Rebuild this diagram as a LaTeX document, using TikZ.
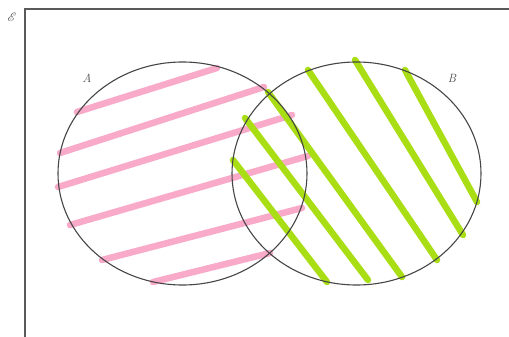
\documentclass[tikz,border=0pt]{standalone}
\usepackage{amsmath,amssymb,bm}
\usepackage{mathrsfs}
\usetikzlibrary{shapes.geometric}
\definecolor{pinkline}{RGB}{249,170,200}
\definecolor{greenline}{RGB}{170,222,20}
\definecolor{edgegray}{RGB}{70,70,70}
\definecolor{framegray}{RGB}{90,90,90}
\tikzset{
  setshape/.style={ellipse, draw=edgegray, line width=1.1pt, minimum width=249pt, minimum height=223pt, inner sep=0pt},
  pinkhatch/.style={pinkline, line width=6.5pt, line cap=round},
  greenhatch/.style={greenline, line width=6.5pt, line cap=round},
  setlabel/.style={font=\fontsize{12}{14}\selectfont\itshape, text=edgegray},
}
\begin{document}
\begin{tikzpicture}[x=1pt,y=-1pt]
\useasboundingbox (0,0) rectangle (509,337);
\clip (0,0) rectangle (509,337);
\fill[white] (0,0) rectangle (509,337);
% universal set frame
\draw[framegray, line width=2pt] (25,345) -- (25,9) -- (520,9);
\node[font=\fontsize{13}{15}\selectfont, text=edgegray] (U) at (12,17) {$\bm{\mathscr{E}}$};
% pink hatching (A)
\coordinate (p1s) at (77,112);  \coordinate (p1e) at (217,68);
\coordinate (p2s) at (60,153);  \coordinate (p2e) at (264,87);
\coordinate (p3s) at (58,187);  \coordinate (p3e) at (292,115);
\coordinate (p4s) at (70,225);  \coordinate (p4e) at (308,156);
\coordinate (p5s) at (102,260); \coordinate (p5e) at (302,208);
\coordinate (p6s) at (153,282); \coordinate (p6e) at (270,253);
\foreach \i in {1,...,6} { \draw[pinkhatch] (p\i s) -- (p\i e); }
% green hatching (B)
\coordinate (g1s) at (233,160); \coordinate (g1e) at (327,282);
\coordinate (g2s) at (245,118); \coordinate (g2e) at (368,280);
\coordinate (g3s) at (268,92);  \coordinate (g3e) at (402,277);
\coordinate (g4s) at (308,70);  \coordinate (g4e) at (437,260);
\coordinate (g5s) at (355,60);  \coordinate (g5e) at (463,235);
\coordinate (g6s) at (405,70);  \coordinate (g6e) at (477,202);
\foreach \i in {1,...,6} { \draw[greenhatch] (g\i s) -- (g\i e); }
% sets
\node[setshape] (A) at (182.5,173.5) {};
\node[setshape] (B) at (356.5,173.5) {};
\node[setlabel] (la) at (87,78) {A};
\node[setlabel] (lb) at (452,78) {B};
\end{tikzpicture}
\end{document}
